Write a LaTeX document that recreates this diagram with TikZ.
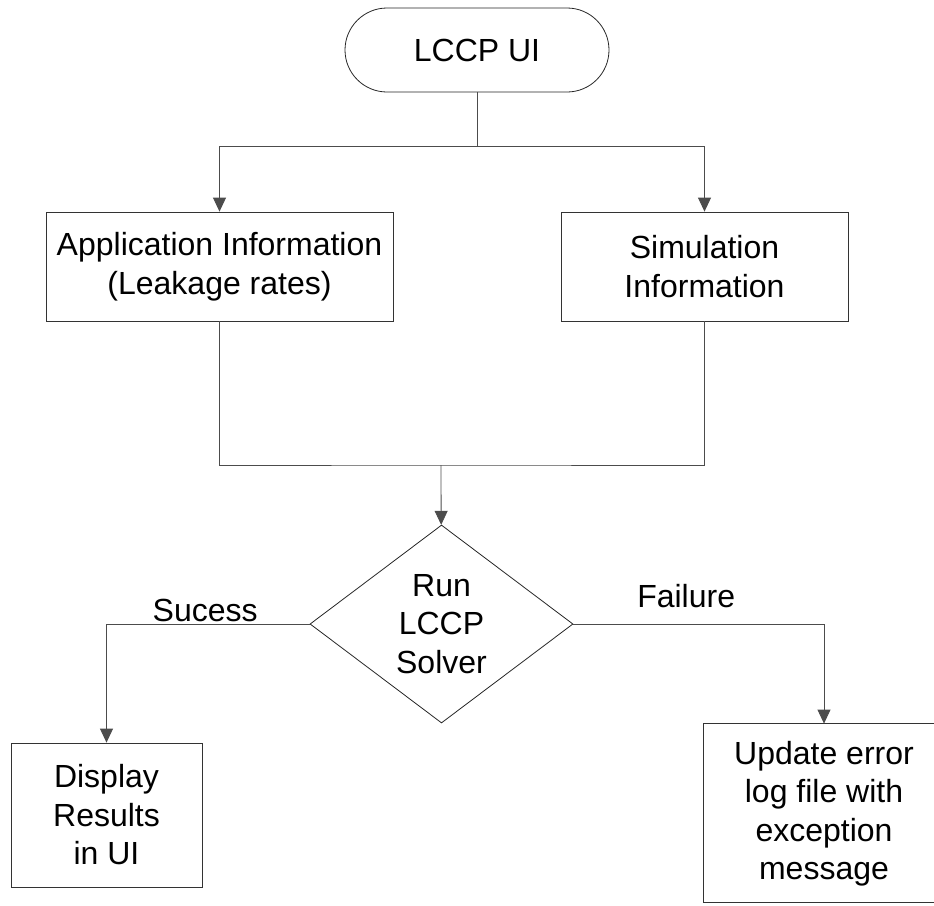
\documentclass[tikz,border=0pt]{standalone}
\usepackage{fontspec}
\setmainfont{Liberation Sans}
\usetikzlibrary{shapes.geometric, arrows.meta}

\begin{document}
\begin{tikzpicture}[
    x=1pt, y=-1pt, % Pixel-like coordinates, y pointing down
    >={Triangle[width=13pt,length=14pt]},
    % Styles
    every node/.style={ % Text in all nodes
        font=\fontsize{32}{38.5}\selectfont,
        align=center
    },
    term/.style={ % Start terminal
        rectangle,
        rounded corners=42pt,
        draw=black!85,
        line width=0.8pt,
        minimum width=264pt,
        minimum height=84pt
    },
    process/.style={ % Process boxes
        rectangle,
        draw=black!80,
        line width=0.8pt
    },
    decision/.style={ % Decision diamond
        diamond,
        draw=black!85,
        line width=0.8pt,
        inner sep=0pt,
        minimum width=263pt,
        minimum height=198pt
    },
    line/.style={ % Plain connector
        draw=black!70,
        line width=0.8pt
    },
    arrow/.style={ % Connector with arrow tip
        line,
        ->
    }
]
    \useasboundingbox (0,0) rectangle (934,905);

    % Start
    \node [term] (ui) at (477,50) {LCCP UI};

    % Input information
    \node [process, minimum width=347pt, minimum height=109pt] (app) at (219.5,266.5)
        {Application Information\\(Leakage rates)};
    \node [process, minimum width=287pt, minimum height=109pt] (sim) at (704.5,266.5)
        {Simulation\\Information};

    % Solver
    \node [decision] (solver) at (441.5,624) {Run\\LCCP\\Solver};

    % Outcomes
    \node [process, minimum width=191pt, minimum height=144pt] (disp) at (106.5,815)
        {Display\\Results\\in UI};
    \node [process, draw=none, minimum width=240pt, minimum height=179pt] (upd) at (824,813.5)
        {Update error\\log file with\\exception\\message};
    \draw [draw=black!80, line width=0.8pt] (upd.north west) rectangle ++(270,179); % box runs off the page

    % Split and join points
    \coordinate (split) at (477,146);
    \coordinate (merge) at (441,465);

    % Arrows from the UI to the information boxes
    \draw [line] (ui) -- (split);
    \draw [arrow] (split) -| (app);
    \draw [arrow] (split) -| (sim);

    % Arrows from the information boxes to the solver
    \draw [line] (app) |- (merge) -| (sim);
    \draw [arrow] (merge) -- (solver);

    % Arrows for the two outcomes
    \draw [arrow] (solver.west) -| node[pos=0.257, above, inner sep=2pt] (suc) {Sucess} (disp.north);
    \draw [arrow] (solver.east) -| node[pos=0.225, above=14pt, inner sep=2pt] (fail) {Failure} (upd.north);
\end{tikzpicture}
\end{document}
